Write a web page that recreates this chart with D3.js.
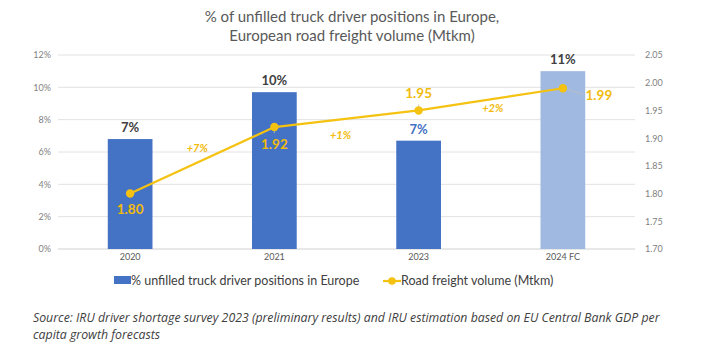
<!DOCTYPE html>
<html><head><meta charset="utf-8">
<script src="https://cdn.jsdelivr.net/npm/d3@7"></script>
<style>body{margin:0;background:#fff}svg{display:block}</style>
</head><body>
<script>
const categories = ["2020", "2021", "2023", "2024 FC"];
const unfilledPct = [6.8, 9.7, 6.7, 11.0];
const unfilledLabels = ["7%", "10%", "7%", "11%"];
const freightVolume = [1.80, 1.92, 1.95, 1.99];
const growthLabels = ["+7%", "+1%", "+2%"];
const leftTicks = [0, 2, 4, 6, 8, 10, 12];
const rightTicks = [1.70, 1.75, 1.80, 1.85, 1.90, 1.95, 2.00, 2.05];

const W = 728, H = 356;
const font = "Lato, 'Open Sans', sans-serif";
const svg = d3.select("body").append("svg").attr("width", W).attr("height", H);

const x = d3.scaleBand().domain(categories).range([58, 635]).paddingInner(0.69).paddingOuter(0.345);
const yL = d3.scaleLinear().domain([0, 12]).range([249, 55]);
const yR = d3.scaleLinear().domain([1.70, 2.05]).range([249, 55]);

// title
svg.append("text").attr("x", 352).attr("y", 22).attr("text-anchor", "middle")
  .attr("font-family", font).attr("font-size", 15).attr("fill", "#595959")
  .text("% of unfilled truck driver positions in Europe,");
svg.append("text").attr("x", 352).attr("y", 41).attr("text-anchor", "middle")
  .attr("font-family", font).attr("font-size", 15).attr("fill", "#595959")
  .text("European road freight volume (Mtkm)");

// gridlines
svg.append("g").selectAll("line").data(leftTicks).join("line")
  .attr("x1", 58).attr("x2", 635).attr("y1", d => yL(d)).attr("y2", d => yL(d))
  .attr("stroke", d => d === 0 ? "#d0d0d0" : "#e2e2e2").attr("stroke-width", 1);

// left axis
const axL = d3.axisLeft(yL).tickValues(leftTicks).tickFormat(d => d + "%").tickSize(0).tickPadding(0);
const gL = svg.append("g").attr("transform", "translate(51,0)").call(axL);
gL.select(".domain").remove();
gL.selectAll("text").attr("font-family", font).attr("font-size", 9).attr("fill", "#7f7f7f");

// right axis
const axR = d3.axisRight(yR).tickValues(rightTicks).tickFormat(d3.format(".2f")).tickSize(0).tickPadding(0);
const gR = svg.append("g").attr("transform", "translate(645,0)").call(axR);
gR.select(".domain").remove();
gR.selectAll("text").attr("font-family", font).attr("font-size", 9).attr("fill", "#7f7f7f");

// x axis
const axB = d3.axisBottom(x).tickSize(0).tickPadding(0);
const gB = svg.append("g").attr("transform", "translate(0,254)").call(axB);
gB.select(".domain").remove();
gB.selectAll("text").attr("font-family", font).attr("font-size", 9).attr("fill", "#595959").attr("dy", "0.7em");

// bars
svg.append("g").selectAll("rect").data(unfilledPct).join("rect")
  .attr("x", (d, i) => x(categories[i])).attr("width", x.bandwidth())
  .attr("y", d => yL(d)).attr("height", d => yL(0) - yL(d))
  .attr("fill", (d, i) => i === 3 ? "#9fb9e0" : "#4472c4");

// bar labels
svg.append("g").selectAll("text").data(unfilledPct).join("text")
  .attr("x", (d, i) => x(categories[i]) + x.bandwidth() / 2)
  .attr("y", d => yL(d) - 7)
  .attr("text-anchor", "middle").attr("font-family", font).attr("font-weight", "bold")
  .attr("font-size", 13).attr("fill", (d, i) => i === 2 ? "#4472c4" : "#404040")
  .text((d, i) => unfilledLabels[i]);

// line
const cx = (i) => x(categories[i]) + x.bandwidth() / 2;
const line = d3.line().x((d, i) => cx(i)).y(d => yR(d));
svg.append("path").datum(freightVolume).attr("d", line)
  .attr("fill", "none").attr("stroke", "#f5c211").attr("stroke-width", 2.2);

// leader lines
const leaders = [[1, 0, 6], [2, 0, -6], [3, 20, 6]];
svg.append("g").selectAll("line").data(leaders).join("line")
  .attr("x1", d => cx(d[0])).attr("y1", d => yR(freightVolume[d[0]]))
  .attr("x2", d => cx(d[0]) + d[1]).attr("y2", d => yR(freightVolume[d[0]]) + d[2])
  .attr("stroke", "#bfbfbf").attr("stroke-width", 0.8);

svg.append("g").selectAll("circle").data(freightVolume).join("circle")
  .attr("cx", (d, i) => cx(i)).attr("cy", d => yR(d)).attr("r", 4.2).attr("fill", "#f5c211");

// line value labels
const offs = [[0, 20], [0, 22], [0, -12], [36, 12]];
svg.append("g").selectAll("text").data(freightVolume).join("text")
  .attr("x", (d, i) => cx(i) + offs[i][0]).attr("y", (d, i) => yR(d) + offs[i][1])
  .attr("text-anchor", "middle").attr("font-family", font).attr("font-weight", "bold")
  .attr("font-size", 13.5).attr("fill", "#f2bb0c")
  .text(d => d3.format(".2f")(d));

// growth labels (between points)
const gOffs = [[-5, -8], [-6, 20], [2, 13]];
svg.append("g").selectAll("text").data(growthLabels).join("text")
  .attr("x", (d, i) => (cx(i) + cx(i + 1)) / 2 + gOffs[i][0])
  .attr("y", (d, i) => (yR(freightVolume[i]) + yR(freightVolume[i + 1])) / 2 + gOffs[i][1])
  .attr("text-anchor", "middle").attr("font-family", font).attr("font-weight", "bold")
  .attr("font-style", "italic").attr("font-size", 11).attr("fill", "#f2bb0c")
  .text(d => d);

// legend
const lg = svg.append("g");
lg.append("rect").attr("x", 114).attr("y", 276).attr("width", 17).attr("height", 8).attr("fill", "#4472c4");
lg.append("text").attr("x", 131).attr("y", 285).attr("font-family", font).attr("font-size", 12.5).attr("fill", "#404040")
  .text("% unfilled truck driver positions in Europe");
lg.append("line").attr("x1", 383).attr("x2", 401).attr("y1", 281).attr("y2", 281).attr("stroke", "#f5c211").attr("stroke-width", 2.2);
lg.append("circle").attr("cx", 392).attr("cy", 281).attr("r", 3.8).attr("fill", "#f5c211");
lg.append("text").attr("x", 401).attr("y", 285).attr("font-family", font).attr("font-size", 12.5).attr("fill", "#404040")
  .text("Road freight volume (Mtkm)");

// source
const src = svg.append("g").attr("font-family", "'Open Sans', sans-serif").attr("font-style", "italic")
  .attr("font-size", 12.3).attr("fill", "#404040");
src.append("text").attr("x", 33).attr("y", 322)
  .text("Source: IRU driver shortage survey 2023 (preliminary results) and IRU estimation based on EU Central Bank GDP per");
src.append("text").attr("x", 33).attr("y", 339).text("capita growth forecasts");
</script>
</body></html>
